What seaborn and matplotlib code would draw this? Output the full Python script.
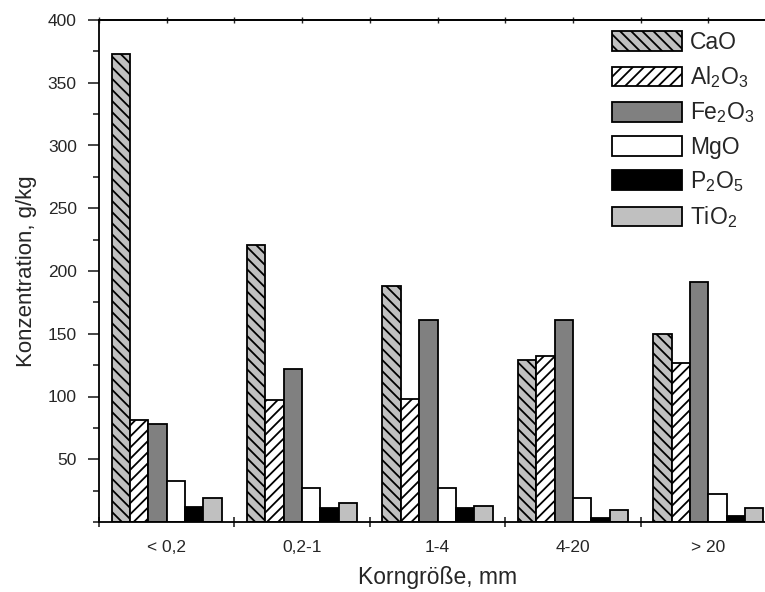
import numpy as np
import pandas as pd
import seaborn as sns
import matplotlib
matplotlib.use("Agg")
import matplotlib.pyplot as plt
from matplotlib.ticker import MultipleLocator, FixedLocator, NullFormatter

# Grain-size fractions and oxide concentrations (g/kg)
fractions = ["< 0,2", "0,2-1", "1-4", "4-20", "> 20"]
oxides = ["CaO", "Al2O3", "Fe2O3", "MgO", "P2O5", "TiO2"]
cao = [373, 221, 188, 129, 150]
al2o3 = [81, 97, 98, 132, 127]
fe2o3 = [78, 122, 161, 161, 191]
mgo = [33, 27, 27, 19, 22]
p2o5 = [12, 11, 11, 3.5, 5]
tio2 = [19, 15.5, 12.5, 9.5, 11]

legend_labels = [
    "CaO",
    r"Al$_\mathregular{2}$O$_\mathregular{3}$",
    r"Fe$_\mathregular{2}$O$_\mathregular{3}$",
    "MgO",
    r"P$_\mathregular{2}$O$_\mathregular{5}$",
    r"TiO$_\mathregular{2}$",
]
face_colors = ["#c0c0c0", "#ffffff", "#808080", "#ffffff", "#000000", "#c0c0c0"]
hatches = ["\\\\\\", "///", "", "", "", ""]

wide = pd.DataFrame({"Fraktion": fractions, "CaO": cao, "Al2O3": al2o3,
                     "Fe2O3": fe2o3, "MgO": mgo, "P2O5": p2o5, "TiO2": tio2})
df = wide.melt(id_vars="Fraktion", var_name="Oxid", value_name="Konzentration")

sns.set_style("white")
plt.rcParams["font.family"] = ["Liberation Sans", "DejaVu Sans"]
plt.rcParams["mathtext.default"] = "regular"
plt.rcParams["hatch.linewidth"] = 1.3

fig = plt.figure(figsize=(7.65, 5.92), dpi=100)
W, H = 765, 592
left, right, top, bottom = 99, 776, 20, 522
ax = fig.add_axes([left / W, 1 - bottom / H, (right - left) / W, (bottom - top) / H])

sns.barplot(data=df, x="Fraktion", y="Konzentration", hue="Oxid",
            order=fractions, hue_order=oxides, palette=face_colors,
            width=0.815, edgecolor="black", linewidth=1.3, saturation=1,
            gap=0, ax=ax, legend=False)

for cont, hatch, fc in zip(ax.containers, hatches, face_colors):
    for bar in cont:
        bar.set_hatch(hatch)
        bar.set_facecolor(fc)
        bar.set_edgecolor("black")

ax.set_xlim(-0.5, 4.5)
ax.set_ylim(0, 400)

# spines
for side in ["left", "bottom", "top"]:
    ax.spines[side].set_visible(True)
    ax.spines[side].set_color("black")
    ax.spines[side].set_linewidth(1.3)
ax.spines["right"].set_visible(False)

# y axis ticks
ax.yaxis.set_major_locator(FixedLocator(np.arange(50, 401, 50)))
ax.yaxis.set_minor_locator(MultipleLocator(25))
ax.tick_params(axis="y", which="major", direction="out", length=8, width=1.2,
               labelsize=12.5, pad=8, left=True)
ax.tick_params(axis="y", which="minor", direction="out", length=4.5, width=1.2, left=True)

# x axis: ticks at group boundaries, labels at group centres
ax.xaxis.set_major_locator(FixedLocator(np.arange(-0.5, 4.6, 1.0)))
ax.xaxis.set_major_formatter(NullFormatter())
ax.set_xticks(np.arange(0, 5), labels=fractions, minor=True)
ax.tick_params(axis="x", which="major", direction="inout", length=7, width=1.2,
               bottom=True, top=False)
ax.tick_params(axis="x", which="minor", length=0, pad=13, labelsize=12.5,
               bottom=True, top=False)

# top spine: small ticks at group boundaries and centres
top_ax = ax.secondary_xaxis("top")
top_ax.set_xticks(np.arange(-0.5, 4.6, 0.5))
top_ax.tick_params(direction="inout", length=5, width=1.0, labeltop=False)
top_ax.spines["top"].set_linewidth(1.3)

ax.set_xlabel("Korngröße, mm", fontsize=16.5, labelpad=8)
ax.set_ylabel("Konzentration, g/kg", fontsize=16, labelpad=8)

ax.legend(handles=ax.containers, labels=legend_labels, loc="upper left",
          bbox_to_anchor=(612 / W, 1 - 31 / H), bbox_transform=fig.transFigure,
          frameon=False, fontsize=16.5, handlelength=3.05, handleheight=0.95,
          handletextpad=0.35, labelspacing=0.45, borderpad=0, borderaxespad=0)

fig.savefig("out.png", dpi=100, facecolor="white")
